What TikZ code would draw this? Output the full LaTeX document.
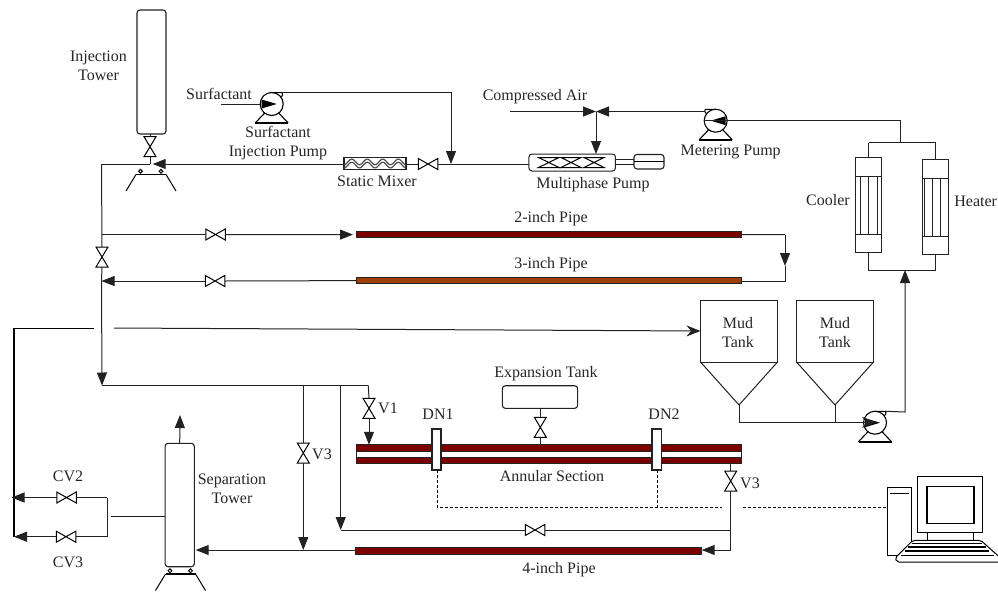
\documentclass[tikz,border=0pt]{standalone}
\usepackage{fontspec}
\setmainfont{Liberation Serif}
\usetikzlibrary{arrows.meta,calc}
\definecolor{pipered}{HTML}{7D0000}
\definecolor{pipebrown}{HTML}{9C3F00}
\definecolor{linegray}{HTML}{222222}
\tikzset{
  x=1pt,y=-1pt,
  lbl/.style={font={\fontsize{16}{19}\selectfont},text=black!85,align=center,inner sep=0pt},
  flow/.style={-{Triangle[length=13pt,width=10pt]}},
  barb/.style={-{Stealth[length=14pt,width=11pt]}},
  box/.style={draw=linegray,inner sep=0pt,outer sep=0pt,rectangle},
  vessel/.style={box,rounded corners=3pt,line width=1.1pt},
  pipea/.style={box,fill=pipered,minimum height=6.5pt},
  pipeb/.style={box,fill=pipebrown,minimum height=6.5pt},
  sensor/.style={box,fill=white,line width=1.8pt,minimum width=9.5pt,minimum height=41.5pt},
  hv/.style={inner sep=0pt,outer sep=0pt,minimum width=19.5pt,minimum height=11pt,rectangle},
  vv/.style={inner sep=0pt,outer sep=0pt,minimum width=12pt,minimum height=20pt,rectangle},
  pump/.pic={
    \node[circle,draw=black,line width=1.1pt,fill=white,minimum size=23pt,inner sep=0pt,outer sep=0pt] (-c) at (0,0) {};
    \fill[black] (-10,-4.5) -- (5,0) -- (-10,4.5) -- cycle;
    \draw[black,line width=1.1pt] (0,-11.4) -- (10.5,-11.4) .. controls (11.5,-10) and (11,-8.5) .. (9.5,-7);
    \draw[black,line width=1.1pt] (-7,9) -- (-16.5,19) (7,9) -- (16.5,19);
    \draw[black,line width=1.6pt] (-16.5,19) -- (16.5,19);
    \coordinate (-out) at (10.5,-11.4);
  },
  stand/.pic={
    \draw[black] (-10.5,-3.2) circle (1.9) (10,-3.2) circle (1.9);
    \draw[black,line width=1.1pt] (-15,0) -- (15,0);
    \draw[black] (-15,0) -- (-25,16.5) (15,0) -- (25,16.5);
  }
}
\newcommand{\hvalve}[3]{\node[hv] (#1) at (#2,#3) {};
  \draw[black] (#1.north west) -- (#1.south east) -- (#1.north east) -- (#1.south west) -- cycle;}
\newcommand{\vvalve}[3]{\node[vv] (#1) at (#2,#3) {};
  \draw[black] (#1.north west) -- (#1.north east) -- (#1.south west) -- (#1.south east) -- cycle;}
\begin{document}
\begin{tikzpicture}[line width=1pt,color=linegray]
\useasboundingbox (0,0) rectangle (998,592);

% ---------- towers
\node[vessel,minimum width=29pt,minimum height=124pt] (itower) at (151.5,72) {};
\node[vessel,minimum width=29.3pt,minimum height=123.4pt] (stower) at (179.7,505) {};
\pic at (151,174.5) {stand};
\pic at (180.5,574) {stand};

% ---------- junction coordinates
\coordinate (jtop) at (101.5,164);
\coordinate (j2in) at (101.5,234.5);
\coordinate (j3in) at (101.5,281);
\coordinate (jmain) at (102,385.5);
\coordinate (jv3) at (303.3,385.5);
\coordinate (jby) at (340.7,385.5);
\coordinate (jv1) at (368.3,385.5);
\coordinate (jtow) at (150,164);
\coordinate (jsurf) at (451,164);
\coordinate (jair) at (596,111.5);
\coordinate (ret) at (13.7,328);
\coordinate (retgapl) at (94,328);
\coordinate (retgapr) at (114,328);

% ---------- valves
\vvalve{vt}{150}{146.7}
\hvalve{vmix}{428}{164}
\vvalve{vm}{102}{257}
\hvalve{v2}{215.5}{234.5}
\hvalve{v3}{215}{281}
\vvalve{va}{303.3}{453}
\vvalve{vb}{369}{408.3}
\vvalve{vc}{540.3}{427.3}
\vvalve{vd}{730.7}{481}
\hvalve{ve}{535}{530}
\hvalve{cvb}{66.5}{497.5}
\hvalve{cvc}{66}{536.7}

% ---------- mixer and multiphase pump
\node[box,line width=1.1pt,minimum width=62pt,minimum height=11.5pt] (mix) at (375,163.5) {};
\begin{scope}
\clip (mix.north west) rectangle (mix.south east);
\foreach \o/\c in {-1.6/black!70,1.6/black!70}
  \draw[\c,line width=1.2pt,domain=0:62,samples=90,smooth] plot ({344+\x},{163.5+\o+2.8*cos(23.2*\x)});
\end{scope}
\node[vessel,line width=1pt,minimum width=86.5pt,minimum height=17pt] (mpump) at (572.2,162.5) {};
\foreach \a/\b in {538.5/559,561/581,584/604}{
  \draw[black] (\a,157.5) -- (\b,157.5) -- (\a,167.5) -- (\b,167.5) -- cycle;
}
\node[vessel,minimum width=30pt,minimum height=14.5pt] (motor) at (649,161.7) {};
\draw[black,line width=1.1pt] (motor.west) -- (motor.east);
\draw (mpump.east |- 0,159.7) -- (motor.west |- 0,159.7);
\draw (mpump.east |- 0,164) -- (motor.west |- 0,164);

% ---------- pumps
\pic (ps) at (271.7,104) {pump};
\pic[xscale=-1] (pm) at (715.7,120.7) {pump};
\pic (pb) at (875,422.7) {pump};
\coordinate (surfin) at (221,104);
\coordinate (airin) at (510,111.5);
\coordinate (pmout) at (704,111.5);

% ---------- cooler, heater
\node[box,minimum width=26.2pt,minimum height=95.3pt] (cool) at (868.5,205.3) {};
\node[box,minimum width=26.3pt,minimum height=95.3pt] (heat) at (935.8,207.3) {};
\draw (855.3,176.5) -- (881.7,176.5) (855.3,234.5) -- (881.7,234.5);
\draw (922.7,178.5) -- (949,178.5) (922.7,236.5) -- (949,236.5);
\draw (860,176.5) -- (860,234.5) (868.7,176.5) -- (868.7,234.5) (877,176.5) -- (877,234.5);
\draw (924.5,178.5) -- (924.5,236.5) (932,178.5) -- (932,236.5) (940.5,178.5) -- (940.5,236.5);
\coordinate (ctop) at (900,142.5);
\coordinate (cbot) at (905,270);

% ---------- pipes
\node[pipea,minimum width=385pt] (p2) at (548.5,234.6) {};
\node[pipeb,minimum width=385pt] (p3) at (548.5,280.6) {};
\node[pipea,minimum width=346pt] (p4) at (528.7,551) {};
\node[pipea,minimum width=385pt] (anut) at (549,448) {};
\node[pipea,minimum width=385pt] (anub) at (549,460.6) {};
\draw (anut.south west) rectangle (anub.north east);
\node[sensor] (dn1) at (436.5,449.5) {};
\node[sensor] (dn2) at (656.8,449.5) {};
\node[vessel,minimum width=75.3pt,minimum height=22.6pt] (exp) at (540,397) {};
\coordinate (r2) at (785,234.5);
\coordinate (r3) at (785,281);

% ---------- mud tanks
\node[box,minimum width=77pt,minimum height=62pt] (mt1) at (739,331) {};
\node[box,minimum width=77pt,minimum height=62pt] (mt2) at (835,331) {};
\coordinate (c1) at (739,405);
\coordinate (c2) at (835,405);
\coordinate (b1) at (739,422.3);
\coordinate (b2) at (835,422.3);
\draw (mt1.south west) -- (c1) -- (mt1.south east);
\draw (mt2.south west) -- (c2) -- (mt2.south east);
\draw (c1) -- (b1) (c2) -- (b2);
\coordinate (pbin) at (876,422.3);
\draw[barb] (b1) -- (pbin);
\coordinate (pbup) at (905,412);
\draw[flow] (pb-out) -- (pbup) -- (cbot);

% ---------- upper piping
\draw (surfin) -- (ps-c.west);
\draw[flow] (ps-out) -| (jsurf);
\draw (vt.north) -- (vt.north |- itower.south);
\draw (vt.south) -- (jtow);
\draw (jtop) -- (jtow);
\draw[flow] (mix.west |- jtop) -- ($(jtow)+(2.7,0)$);
\draw (mix.east |- jtop) -- (vmix.west);
\draw (vmix.east) -- (mpump.west |- jtop);
\draw[flow] (airin) -- (jair);
\draw[flow] (pmout) -- (jair);
\draw[flow] (jair) -- (jair |- mpump.north);
\draw (pm-c.west) -- (727,120.7) -| (ctop);
\draw (cool.north |- ctop) -- (heat.north |- ctop);
\draw (cool.north) -- (cool.north |- ctop);
\draw (heat.north) -- (heat.north |- ctop);
\draw (cool.south) -- (cool.south |- cbot) -- (heat.south |- cbot) -- (heat.south);

% ---------- main header
\draw (jtop) -- (vm.north);
\draw (vm.south) -- (j3in);
\draw[flow] (j3in) -- (jmain);
\draw (j2in) -- (v2.west);
\draw[flow,shorten >=3pt] (v2.east) -- (p2.west);
\draw (p2.east) -- (r2);
\draw[flow] (r2) -- (785,266);
\draw (785,266) -- (r3) -- (p3.east |- r3);
\draw (p3.west) -- (v3.east);
\draw[flow] (v3.west) -- (j3in);
\draw (jmain) -- (jv1);
\draw[line width=2.2pt,black] (ret) -- (13.7,536.7);
\draw[black] (retgapl) -- (ret);
\draw[barb] (retgapr) -- (mt1.west);

% ---------- lower piping
\draw (jv3) -- (va.north);
\coordinate (j4) at (303.3,550);
\draw[flow] (va.south) -- (j4);
\coordinate (jby2) at (340.7,530);
\draw[flow] (jby) -- (jby2);
\draw (jby2) -- (ve.west);
\coordinate (jv4) at (730.7,530);
\draw (ve.east) -- (jv4);
\draw (jv1) -- (vb.north);
\draw[flow] (vb.south) -- (vb.south |- anut.north);
\draw (vc.north) -- (vc.north |- exp.south);
\draw (vc.south) -- (vc.south |- anut.north);
\draw (vd.north) -- (vd.north |- anub.south);
\coordinate (r4) at (730.7,550);
\draw (vd.south) -- (r4);
\draw[flow] (r4) -- (p4.east |- r4);
\coordinate (stin) at (195.7,550);
\draw[flow] (p4.west |- stin) -- (stin);
\draw[flow] (stower.north) -- (180,415);
\coordinate (tl) at (110.7,516.3);
\draw (stower.west |- tl) -- (tl);
\coordinate (cvt) at (107,497.5);
\coordinate (cvb2) at (107,536.7);
\draw (cvt) -- (cvb2);
\draw (cvt) -- (cvb.east);
\draw[flow] (cvb.west) -- (11.5,497.5);
\draw (cvb2) -- (cvc.east);
\draw[flow] (cvc.west) -- (14,536.7);

% ---------- signal lines
\coordinate (sg1) at (437.3,507.3);
\coordinate (sg2) at (657.7,507.3);
\coordinate (sg3) at (722,507.3);
\coordinate (sg4) at (743,507.3);
\draw[densely dashed,black] (dn1.south -| sg1) -- (sg1) -- (sg3);
\draw[densely dashed,black] (dn2.south -| sg2) -- (sg2);

% ---------- computer
\node[box,draw=black,minimum width=24.5pt,minimum height=67.3pt] (tower) at (899.5,521.6) {};
\draw[densely dashed,black] (sg4) -- (tower.west |- sg4);
\draw[black,line width=1.6pt] (890,493.5) -- (909,493.5);
\node[box,draw=black,minimum width=64.7pt,minimum height=55.7pt] (mon) at (950.3,504.8) {};
\node[box,draw=black,line width=1.1pt,minimum width=47pt,minimum height=37.4pt] (scr) at (950.5,505) {};
\draw[black] (927.5,532.7) -- (927.5,540.3) (973.7,532.7) -- (973.7,540.3);
\draw[black,fill=white,rounded corners=2pt] (913,540.3) -- (980.7,540.3) -- (1005,562) -- (897,562) -- (895,558) -- cycle;
\draw[black,line width=1.1pt] (911.7,543.6) -- (982,543.6) (908,547) -- (985.5,547) (905,551) -- (988.5,551) (900.7,555.7) -- (993.5,555.7);

% ---------- labels
\node[lbl] (t1) at (98.5,65.5) {Injection\\Tower};
\node[lbl] (t2) at (219,94) {Surfactant};
\node[lbl] (t3) at (278,143) {Surfactant\\Injection Pump};
\node[lbl] (t4) at (377,181) {Static Mixer};
\node[lbl] (t5) at (593,184.5) {Multiphase Pump};
\node[lbl] (t6) at (535,96.5) {Compressed Air};
\node[lbl] (t7) at (730.7,151.5) {Metering Pump};
\node[lbl] (t8) at (828,200) {Cooler};
\node[lbl] (t9) at (975.7,201.7) {Heater};
\node[lbl] (t10) at (551,218.5) {2-inch Pipe};
\node[lbl] (t11) at (551,264.5) {3-inch Pipe};
\node[lbl] (t12) at (738,332.5) {Mud\\Tank};
\node[lbl] (t13) at (835,332.5) {Mud\\Tank};
\node[lbl] (t14) at (546,373.5) {Expansion Tank};
\node[lbl] (t15) at (388,408) {V1};
\node[lbl] (t16) at (438,414) {DN1};
\node[lbl] (t17) at (664,414) {DN2};
\node[lbl] (t18) at (322,454) {V3};
\node[lbl] (t19) at (750,483) {V3};
\node[lbl] (t20) at (552,476) {Annular Section};
\node[lbl] (t21) at (559,569.5) {4-inch Pipe};
\node[lbl] (t22) at (232,488.5) {Separation\\Tower};
\node[lbl] (t23) at (68,476) {CV2};
\node[lbl] (t24) at (68,562) {CV3};
\end{tikzpicture}
\end{document}
